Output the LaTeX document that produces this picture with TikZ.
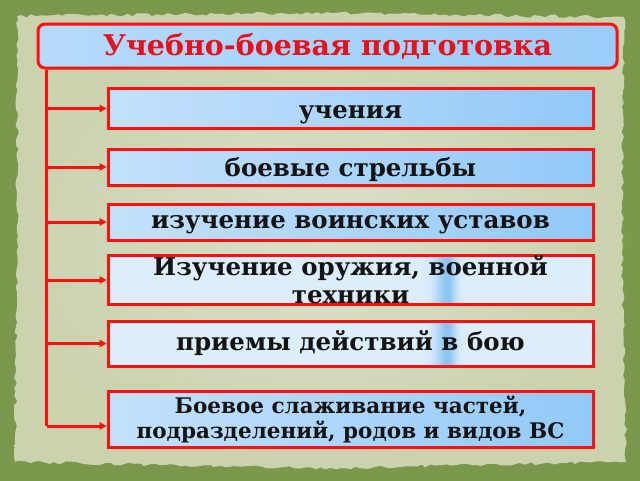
\documentclass[tikz,border=0pt]{standalone}
\usepackage{fontspec}
\setmainfont{DejaVu Serif}
\usetikzlibrary{arrows.meta,decorations.pathmorphing,calc}
\definecolor{bgdark}{HTML}{7A974C}
\definecolor{bglight}{HTML}{9DB673}
\definecolor{paperin}{HTML}{DCE0CA}
\definecolor{paperout}{HTML}{CAD2AE}
\definecolor{redline}{HTML}{FF1010}
\definecolor{titlered}{HTML}{E8101A}
\definecolor{bluel}{HTML}{C4E1FC}
\definecolor{bluer}{HTML}{92C9F8}
\definecolor{palefill}{HTML}{DCEDFC}
\definecolor{streak}{HTML}{8CC4F3}
\tikzset{
  boxbase/.style={draw=redline, line width=3pt, minimum width=485pt, inner sep=0pt, align=center},
  gradbox/.style={boxbase, left color=bluel, right color=bluer},
  palebox/.style={boxbase, fill=palefill},
  streakbox/.style={palebox, path picture={
     \foreach \dx in {-30,-28,...,22} {
       \pgfmathsetmacro\sg{\dx<0 ? 12 : 8}
       \pgfmathsetmacro\pc{100*exp(-(\dx*\dx)/(\sg*\sg))}
       \pgfmathsetmacro\xa{339+\dx}
       \pgfmathsetmacro\xb{341.1+\dx}
       \fill[streak!\pc!palefill]
         ($(path picture bounding box.south west)+(\xa,0)$) rectangle
         ($(path picture bounding box.north west)+(\xb,0)$);
     }}},
  bigtxt/.style={font=\fontsize{24.5}{28}\selectfont\bfseries\color{black!92}},
  conn/.style={draw=redline, line width=3pt},
  arr/.style={conn, -{Triangle[length=7pt,width=7.5pt]}},
}
\begin{document}
\begin{tikzpicture}[x=1pt,y=-1pt]
\useasboundingbox (0,0) rectangle (640,480);
\shade[inner color=bglight, outer color=bgdark] (0,0) rectangle (640,480);
\shade[inner color=paperin, outer color=paperout, decorate,
  decoration={random steps, segment length=5pt, amplitude=1.6pt}]
  (17,16) -- (330,13) -- (624,17) -- (622,240) -- (626,462) -- (330,468) -- (15,462) -- (17,240) -- cycle;

\node[draw=redline, line width=3pt, rounded corners=7pt, left color=bluel!70!bluer, right color=bluer!85!bluel,
  minimum width=579pt, minimum height=44pt, inner sep=0pt,
  font=\fontsize{28.5}{32}\selectfont\bfseries\color{titlered}] (title) at (327.5,46) {Учебно-боевая подготовка};

\node[gradbox, bigtxt, minimum height=40pt, text height=20.5pt, text depth=0pt] (b1) at (350.5,108.5) {учения};
\node[gradbox, bigtxt, minimum height=36pt, text height=18.5pt, text depth=0pt] (b2) at (350.5,167) {боевые стрельбы};
\node[gradbox, bigtxt, minimum height=36pt, text height=13.7pt, text depth=0pt] (b3) at (350.5,222) {изучение воинских уставов};
\node[streakbox, bigtxt, minimum height=40pt] (b4) at (350.5,280) {Изучение оружия, военной\\техники};
\node[streakbox, bigtxt, minimum height=45pt, text height=14.7pt, text depth=0pt] (b5) at (350.5,343.5) {приемы действий в бою};
\node[gradbox, minimum height=56pt, font=\fontsize{21.5}{25}\selectfont\bfseries\color{black!92}] (b6) at (350.5,419) {Боевое слаживание частей,\\подразделений, родов и видов ВС};

\coordinate (t0) at ([xshift=10pt]title.south west);
\coordinate (a6) at ([yshift=-7pt]b6.west);
\coordinate (tb) at (t0 |- a6);
\draw[conn] (t0) -- (tb);
\foreach \b in {b1,b2,b3,b4,b5} {
  \draw[arr] (t0 |- \b.west) -- (\b.west);
}
\draw[arr] (tb) -- (a6);
\end{tikzpicture}
\end{document}
